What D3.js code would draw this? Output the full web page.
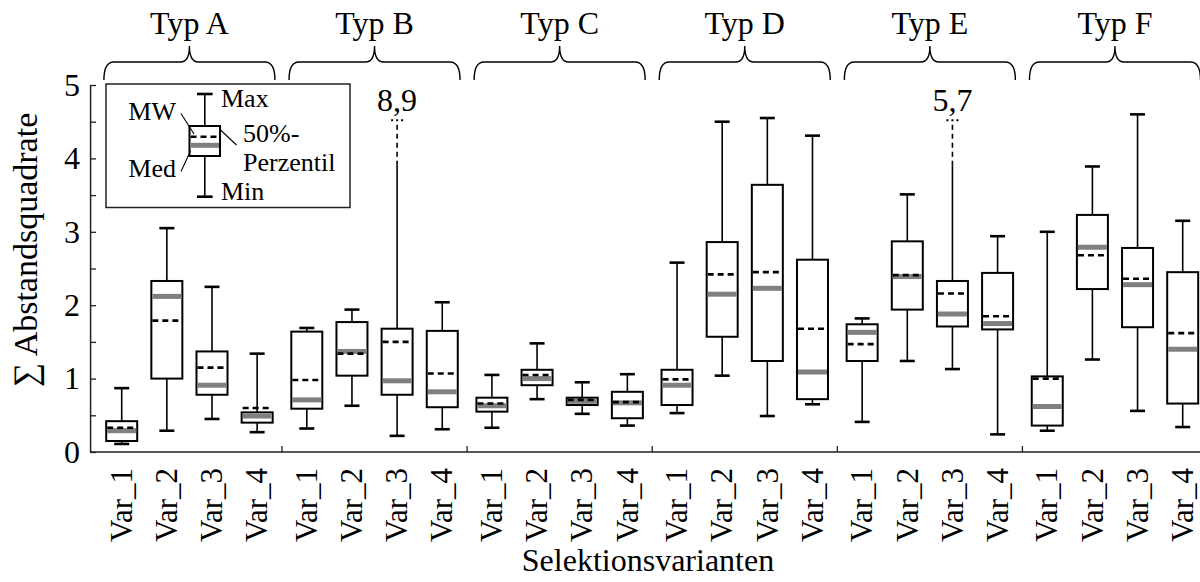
<!DOCTYPE html>
<html>
<head>
<meta charset="utf-8">
<script src="https://cdn.jsdelivr.net/npm/d3@7/dist/d3.min.js"></script>
<style>
  html, body { margin: 0; padding: 0; background: #fff; }
  svg { display: block; }
  text { font-family: "Liberation Serif", "Times New Roman", serif; fill: #000; }
</style>
</head>
<body>
<svg id="chart" width="1200" height="582"></svg>
<script>
// Groups and selection variants
const groups = ["Typ A", "Typ B", "Typ C", "Typ D", "Typ E", "Typ F"];
const variants = ["Var_1", "Var_2", "Var_3", "Var_4"];

// Box statistics, ordered Typ A Var_1..Var_4, Typ B Var_1..Var_4, ...
const minVals    = [0.11, 0.29, 0.45, 0.27,  0.32, 0.63, 0.22, 0.31,  0.33, 0.72, 0.52, 0.36,  0.53, 1.04, 0.49, 0.65,  0.41, 1.24, 1.13, 0.24,  0.29, 1.26, 0.56, 0.34];
const q1Vals     = [0.15, 1.00, 0.78, 0.40,  0.59, 1.04, 0.78, 0.61,  0.55, 0.91, 0.64, 0.46,  0.64, 1.57, 1.24, 0.72,  1.24, 1.94, 1.71, 1.67,  0.36, 2.22, 1.70, 0.66];
const medianVals = [0.29, 2.12, 0.91, 0.49,  0.71, 1.37, 0.97, 0.82,  0.63, 1.00, 0.69, 0.67,  0.91, 2.15, 2.23, 1.09,  1.63, 2.39, 1.88, 1.75,  0.62, 2.79, 2.28, 1.40];
const meanVals   = [0.33, 1.79, 1.15, 0.60,  0.98, 1.34, 1.50, 1.07,  0.66, 1.05, 0.71, 0.68,  0.99, 2.42, 2.45, 1.68,  1.47, 2.41, 2.16, 1.85,  1.00, 2.68, 2.36, 1.62];
const q3Vals     = [0.42, 2.33, 1.37, 0.54,  1.64, 1.77, 1.68, 1.65,  0.74, 1.12, 0.74, 0.82,  1.12, 2.86, 3.64, 2.62,  1.74, 2.87, 2.33, 2.44,  1.03, 3.23, 2.78, 2.45];
const maxVals    = [0.87, 3.05, 2.25, 1.34,  1.69, 1.94, 8.9,  2.04,  1.05, 1.48, 0.95, 1.06,  2.58, 4.50, 4.55, 4.31,  1.82, 3.51, 5.7,  2.94,  3.00, 3.89, 4.60, 3.15];

// Y axis ticks (every 0.5, labelled at integers)
const yTicks = [0, 0.5, 1, 1.5, 2, 2.5, 3, 3.5, 4, 4.5, 5];
const yMax = 5;
// Whiskers beyond the axis are drawn broken: solid up to breakFrom, dashed up to breakTo
const breakFrom = 3.9;
const breakTo = 4.52;

const svg = d3.select("#chart");
const FONT = 32;
const XFONT = 31;

// Position units: each variant 1 unit, an extra 0.1 unit between groups
const groupStride = 4.1;
const pos = (g, v) => g * groupStride + v;

const x = d3.scaleLinear().domain([0, pos(5, 3)]).range([121.7, 1182.7]);
const y = d3.scaleLinear().domain([0, yMax]).range([452, 85]);
const boxW = 31;
const capW = 15;

const boxes = [];
groups.forEach((gName, g) => {
  variants.forEach((vName, v) => {
    const i = g * variants.length + v;
    boxes.push({
      group: gName, variant: vName, p: pos(g, v),
      min: minVals[i], q1: q1Vals[i], median: medianVals[i],
      mean: meanVals[i], q3: q3Vals[i], max: maxVals[i]
    });
  });
});

// ---- Y axis ----
const yAxis = d3.axisLeft(y)
  .tickValues(yTicks)
  .tickSizeInner(-6)
  .tickSizeOuter(0)
  .tickPadding(10)
  .tickFormat(d => Number.isInteger(d) ? d3.format("d")(d) : "");
const yG = svg.append("g")
  .attr("transform", `translate(${x(-0.7)},0)`)
  .call(yAxis);
yG.select(".domain").attr("stroke", "#222").attr("stroke-width", 1.5);
yG.selectAll(".tick line").attr("stroke", "#222").attr("stroke-width", 1.3);
yG.selectAll(".tick text")
  .style("font-family", '"Liberation Serif", "Times New Roman", serif')
  .style("font-size", FONT + "px")
  .attr("fill", "#000");

// ---- X axis line with group separator ticks ----
const xLeft = x(-0.7), xRight = x(pos(5, 3) + 0.6);
svg.append("line")
  .attr("x1", xLeft).attr("x2", xRight)
  .attr("y1", y(0)).attr("y2", y(0))
  .attr("stroke", "#222").attr("stroke-width", 1.5);
d3.range(1, groups.length).forEach(g => {
  const sx = x(g * groupStride - 0.55);
  svg.append("line")
    .attr("x1", sx).attr("x2", sx)
    .attr("y1", y(0)).attr("y2", y(0) - 6)
    .attr("stroke", "#222").attr("stroke-width", 1.3);
});

// Variant labels (rotated)
svg.append("g").selectAll("text")
  .data(boxes).join("text")
  .attr("transform", d => `translate(${x(d.p)},${y(0) + 16}) rotate(-90)`)
  .attr("text-anchor", "end")
  .attr("dy", "0.33em")
  .style("font-size", XFONT + "px")
  .text(d => d.variant);

// Axis titles
svg.append("text")
  .attr("x", 648).attr("y", 571)
  .attr("text-anchor", "middle")
  .style("font-size", FONT + "px")
  .text("Selektionsvarianten");
svg.append("text")
  .attr("transform", `translate(37,250) rotate(-90)`)
  .attr("text-anchor", "middle")
  .style("font-size", "34px")
  .text("∑ Abstandsquadrate");

// ---- Group braces and titles ----
const braceHalf = 85.5, braceTop = 62, braceBottom = 80, braceTip = 46;
groups.forEach((gName, g) => {
  const cx = (x(pos(g, 0)) + x(pos(g, 3))) / 2;
  const x0 = cx - braceHalf, x1 = cx + braceHalf;
  const p = d3.path();
  p.moveTo(x0, braceBottom);
  p.quadraticCurveTo(x0, braceTop, x0 + 10, braceTop);
  p.lineTo(cx - 9, braceTop);
  p.quadraticCurveTo(cx, braceTop, cx, braceTip);
  p.quadraticCurveTo(cx, braceTop, cx + 9, braceTop);
  p.lineTo(x1 - 10, braceTop);
  p.quadraticCurveTo(x1, braceTop, x1, braceBottom);
  svg.append("path").attr("d", p.toString())
    .attr("fill", "none").attr("stroke", "#000").attr("stroke-width", 1.4);
  svg.append("text")
    .attr("x", cx).attr("y", 34)
    .attr("text-anchor", "middle")
    .style("font-size", FONT + "px")
    .text(gName);
});

// ---- Box plots ----
const gBox = svg.append("g");
boxes.forEach(d => {
  const cx = x(d.p);
  const broken = d.max > yMax;
  const topSolid = broken ? breakFrom : d.max;
  // whiskers
  gBox.append("line").attr("x1", cx).attr("x2", cx)
    .attr("y1", y(d.q1)).attr("y2", y(d.min))
    .attr("stroke", "#000").attr("stroke-width", 1.6);
  gBox.append("line").attr("x1", cx).attr("x2", cx)
    .attr("y1", y(d.q3)).attr("y2", y(topSolid))
    .attr("stroke", "#000").attr("stroke-width", 1.6);
  gBox.append("line").attr("x1", cx - capW / 2).attr("x2", cx + capW / 2)
    .attr("y1", y(d.min)).attr("y2", y(d.min))
    .attr("stroke", "#000").attr("stroke-width", 2.6);
  if (broken) {
    gBox.append("line").attr("x1", cx).attr("x2", cx)
      .attr("y1", y(topSolid)).attr("y2", y(breakTo))
      .attr("stroke", "#000").attr("stroke-width", 1.6)
      .attr("stroke-dasharray", "5,4");
    gBox.append("line").attr("x1", cx - 6).attr("x2", cx + 6)
      .attr("y1", y(breakTo)).attr("y2", y(breakTo))
      .attr("stroke", "#000").attr("stroke-width", 2.2)
      .attr("stroke-dasharray", "2,3");
    gBox.append("text")
      .attr("x", cx).attr("y", y(breakTo) - 9)
      .attr("text-anchor", "middle")
      .style("font-size", FONT + "px")
      .text(d3.format(".1f")(d.max).replace(".", ","));
  } else {
    gBox.append("line").attr("x1", cx - capW / 2).attr("x2", cx + capW / 2)
      .attr("y1", y(d.max)).attr("y2", y(d.max))
      .attr("stroke", "#000").attr("stroke-width", 2.6);
  }
  // box
  gBox.append("rect")
    .attr("x", cx - boxW / 2).attr("y", y(d.q3))
    .attr("width", boxW).attr("height", y(d.q1) - y(d.q3))
    .attr("fill", "#fff").attr("stroke", "#000").attr("stroke-width", 2);
  // median
  gBox.append("line")
    .attr("x1", cx - boxW / 2 + 1).attr("x2", cx + boxW / 2 - 1)
    .attr("y1", y(d.median)).attr("y2", y(d.median))
    .attr("stroke", "#808080").attr("stroke-width", 5);
  // mean
  gBox.append("line")
    .attr("x1", cx - boxW / 2 + 1).attr("x2", cx + boxW / 2 - 1)
    .attr("y1", y(d.mean)).attr("y2", y(d.mean))
    .attr("stroke", "#000").attr("stroke-width", 2.6)
    .attr("stroke-dasharray", "6,4");
});

// ---- Legend ----
const LF = 26;
const lg = svg.append("g");
lg.append("rect").attr("x", 106).attr("y", 84).attr("width", 244).attr("height", 123.5)
  .attr("fill", "#fff").attr("stroke", "#222").attr("stroke-width", 1.5);
const lx = 204.8;
lg.append("line").attr("x1", lx).attr("x2", lx).attr("y1", 94).attr("y2", 196.7)
  .attr("stroke", "#000").attr("stroke-width", 1.6);
[94, 196.7].forEach(yy => lg.append("line")
  .attr("x1", lx - 7.8).attr("x2", lx + 7.8).attr("y1", yy).attr("y2", yy)
  .attr("stroke", "#000").attr("stroke-width", 2.6));
lg.append("rect").attr("x", 189.5).attr("y", 126).attr("width", 30.5).attr("height", 30)
  .attr("fill", "#fff").attr("stroke", "#000").attr("stroke-width", 2);
lg.append("line").attr("x1", 190.5).attr("x2", 219).attr("y1", 145.3).attr("y2", 145.3)
  .attr("stroke", "#808080").attr("stroke-width", 5);
lg.append("line").attr("x1", 190.5).attr("x2", 219).attr("y1", 136.7).attr("y2", 136.7)
  .attr("stroke", "#000").attr("stroke-width", 2.6).attr("stroke-dasharray", "6,4");
// leader lines
[[181, 113.5, 194, 134], [181, 171.5, 190.5, 151], [220.5, 130, 236.5, 145]].forEach(l =>
  lg.append("line").attr("x1", l[0]).attr("y1", l[1]).attr("x2", l[2]).attr("y2", l[3])
    .attr("stroke", "#000").attr("stroke-width", 1.1));
const legendTexts = [
  { t: "Max", x: 221, y: 106.5, a: "start" },
  { t: "MW", x: 176, y: 120, a: "end" },
  { t: "Med", x: 176, y: 176.5, a: "end" },
  { t: "50%-", x: 243, y: 142, a: "start" },
  { t: "Perzentil", x: 243, y: 170.5, a: "start" },
  { t: "Min", x: 221, y: 200, a: "start" }
];
lg.selectAll("text.lt").data(legendTexts).join("text")
  .attr("class", "lt")
  .attr("x", d => d.x).attr("y", d => d.y)
  .attr("text-anchor", d => d.a)
  .style("font-size", LF + "px")
  .text(d => d.t);
</script>
</body>
</html>
